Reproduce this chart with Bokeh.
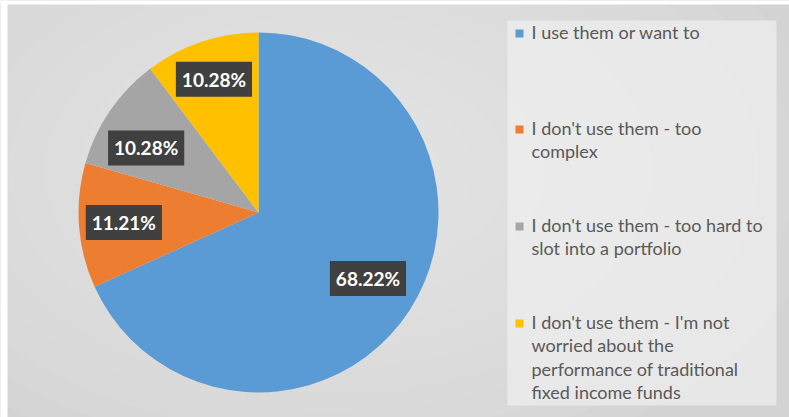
import numpy as np
from bokeh.plotting import figure
from bokeh.models import Range1d, ColumnDataSource
from bokeh.core.properties import value
from bokeh.embed import file_html
from bokeh.resources import INLINE

# ---- data ----
categories = [
    "I use them or want to",
    "I don't use them - too\ncomplex",
    "I don't use them - too hard to\nslot into a portfolio",
    "I don't use them - I'm not\nworried about the\nperformance of traditional\nfixed income funds",
]
shares = [68.22, 11.21, 10.28, 10.28]
colors = ["#5b9bd5", "#ed7d31", "#a5a5a5", "#ffc000"]
pct_labels = ["68.22%", "11.21%", "10.28%", "10.28%"]

W, H = 789, 417
p = figure(width=W, height=H, output_backend="svg", toolbar_location=None,
           x_range=Range1d(0, W), y_range=Range1d(0, H),
           x_axis_location=None, y_axis_location=None, min_border=0)
p.grid.visible = False
p.outline_line_color = None
p.background_fill_color = "#d3d3d3"
p.border_fill_color = "#ffffff"

# soft radial light (background gradient imitation)
for i in range(14):
    f = 1 - i / 14
    p.ellipse(x=330, y=H - 170, width=1000 * f, height=620 * f,
              fill_color="white", fill_alpha=0.05, line_color=None)
# white strips at top/left edge
p.quad(left=[0, 0], right=[7, W], bottom=[0, H - 4], top=[H, H],
       fill_color="white", line_color=None)

# legend panel
p.quad(left=[507], right=[776], bottom=[H - 405], top=[H - 20],
       fill_color="#efefef", fill_alpha=0.7, line_color=None)

# ---- pie ----
cx, cy, R = 258, H - 212, 180
vals = np.array(shares)
frac = vals / vals.sum()
cum = np.concatenate([[0], np.cumsum(frac)])
start = np.pi / 2 - cum[1:] * 2 * np.pi
end = np.pi / 2 - cum[:-1] * 2 * np.pi
src = ColumnDataSource(dict(start=start, end=end, color=colors))
p.wedge(x=cx, y=cy, radius=R, start_angle="start", end_angle="end",
        fill_color="color", line_color=None, source=src)

mid = (start + end) / 2 + np.array([0.03, 0.0, 0.08, 0.0])
rf = np.array([0.71, 0.75, 0.72, 0.78])
lx = cx + rf * R * np.cos(mid)
ly = cy + rf * R * np.sin(mid)
lsrc = ColumnDataSource(dict(x=lx, y=ly, t=pct_labels))
p.text(x="x", y="y", text="t", source=lsrc, text_color="white",
       text_font=value("Lato"), text_font_style="bold", text_font_size="19px",
       text_align="center", text_baseline="middle",
       background_fill_color="#404040", padding=6)

# ---- legend ----
first_line = [32, 128, 225, 322]
ys = [H - v for v in first_line]
p.scatter(x=[519] * 4, y=[y - 1 for y in ys], marker="square", size=8,
          fill_color=colors, line_color=None)
p.text(x=[531] * 4, y=[y + 12 for y in ys], text=categories,
       text_color="#595959", text_font=value("Lato"), text_font_size="18px",
       text_align="left", text_baseline="top", text_line_height=1.07)

open("out.html", "w").write(file_html(p, INLINE))
